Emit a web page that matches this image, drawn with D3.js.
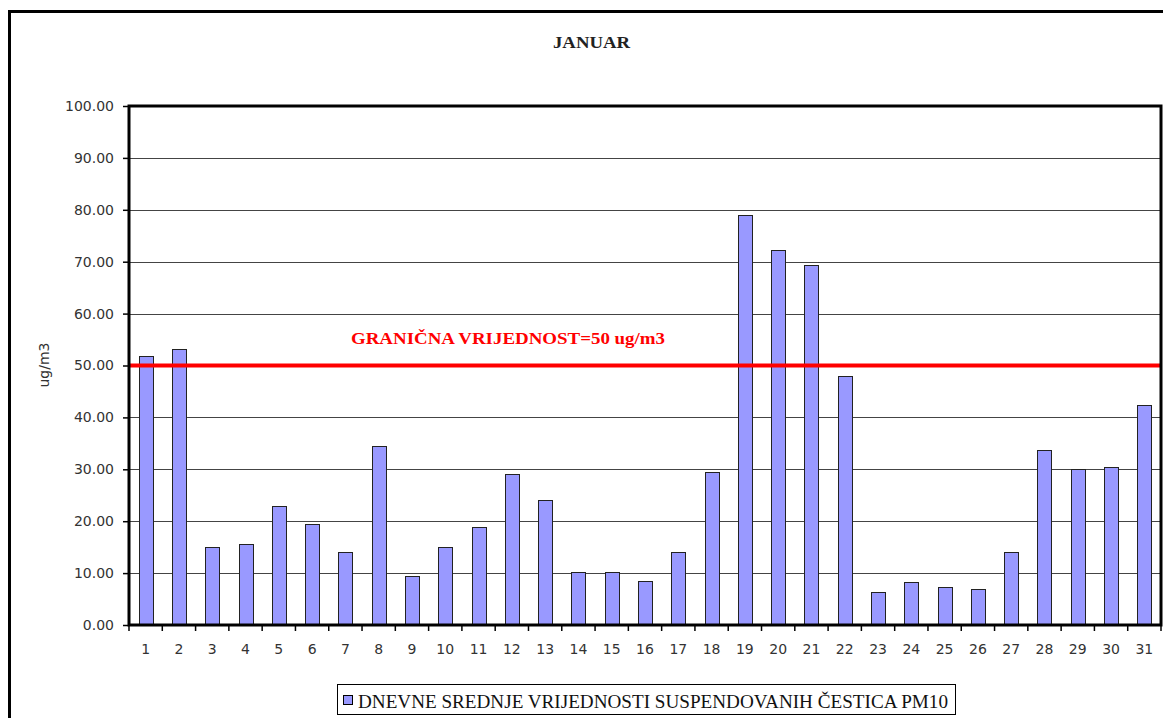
<!DOCTYPE html>
<html>
<head>
<meta charset="utf-8">
<script src="https://cdn.jsdelivr.net/npm/d3@7"></script>
<style>
  body { margin: 0; background: #fff; }
  svg { display: block; }
</style>
</head>
<body>
<svg id="chart" width="1163" height="718"></svg>
<script>
const days = d3.range(1, 32).map(String);
const pm10 = [51.8, 53.2, 15.0, 15.7, 22.9, 19.4, 14.1, 34.4, 9.4, 15.0,
              18.9, 29.0, 24.1, 10.3, 10.3, 8.5, 14.1, 29.4, 79.0, 72.3,
              69.4, 48.0, 6.4, 8.2, 7.3, 6.9, 14.1, 33.7, 30.1, 30.4, 42.4];
const yTicks = [0, 10, 20, 30, 40, 50, 60, 70, 80, 90, 100];
const limitValue = 50;
const titleText = 'JANUAR';
const limitLabel = 'GRANIČNA VRIJEDNOST=50 ug/m3';
const legendLabel = 'DNEVNE SREDNJE VRIJEDNOSTI SUSPENDOVANIH ČESTICA PM10';
const yLabel = 'ug/m3';

const plot = { left: 129, top: 106, right: 1161, bottom: 625 };
const sans = '"DejaVu Sans", Verdana, sans-serif';
const serif = '"Liberation Serif", "Times New Roman", serif';

const svg = d3.select('#chart');

// outer chart border (continues past window on right/bottom)
svg.append('rect')
  .attr('x', 9.5).attr('y', 11.5)
  .attr('width', 1200).attr('height', 800)
  .attr('fill', 'none').attr('stroke', '#000').attr('stroke-width', 3);

const x = d3.scaleBand().domain(days).range([plot.left, plot.right])
  .paddingInner(0.58).paddingOuter(0.29);
const xCat = d3.scaleBand().domain(days).range([plot.left, plot.right]);
const y = d3.scaleLinear().domain([0, 100]).range([plot.bottom, plot.top]);

// gridlines
svg.append('g').selectAll('line')
  .data(yTicks.filter(d => d > 0 && d < 100))
  .enter().append('line')
  .attr('x1', plot.left).attr('x2', plot.right)
  .attr('y1', d => Math.round(y(d)) + 0.5).attr('y2', d => Math.round(y(d)) + 0.5)
  .attr('stroke', '#444').attr('stroke-width', 1);

// bars
svg.append('g').selectAll('rect')
  .data(pm10)
  .enter().append('rect')
  .attr('x', (d, i) => Math.round(x(days[i])) + 0.5)
  .attr('y', d => Math.round(y(d)) + 0.5)
  .attr('width', Math.round(x.bandwidth()))
  .attr('height', d => plot.bottom - Math.round(y(d)))
  .attr('fill', '#9999ff')
  .attr('stroke', '#222')
  .attr('stroke-width', 1);

// limit line
svg.append('line')
  .attr('x1', plot.left).attr('x2', plot.right)
  .attr('y1', y(limitValue)).attr('y2', y(limitValue))
  .attr('stroke', '#ff0000').attr('stroke-width', 4);

svg.append('text')
  .attr('x', 351).attr('y', 344)
  .attr('font-family', serif).attr('font-weight', 'bold')
  .attr('font-size', 16).attr('fill', '#ff0000')
  .attr('textLength', 314).attr('lengthAdjust', 'spacingAndGlyphs')
  .text(limitLabel);

// y axis
const yAxis = d3.axisLeft(y).tickValues(yTicks).tickSize(6).tickPadding(9)
  .tickFormat(d3.format('.2f'));
const gy = svg.append('g').attr('transform', `translate(${plot.left},0)`).call(yAxis);
gy.select('.domain').remove();
gy.selectAll('line').attr('stroke', '#000').attr('stroke-width', 1.5);
gy.selectAll('text').attr('font-family', sans).attr('font-size', 14).attr('fill', '#333');

// x axis
const xAxis = d3.axisBottom(xCat).tickSize(0).tickPadding(19);
const gx = svg.append('g').attr('transform', `translate(0,${plot.bottom})`).call(xAxis);
gx.select('.domain').remove();
gx.selectAll('text').attr('font-family', sans).attr('font-size', 14).attr('fill', '#333');

svg.append('g').selectAll('line')
  .data(days.concat(['end']))
  .enter().append('line')
  .attr('x1', (d, i) => plot.left + i * xCat.step())
  .attr('x2', (d, i) => plot.left + i * xCat.step())
  .attr('y1', plot.bottom).attr('y2', plot.bottom + 6)
  .attr('stroke', '#000').attr('stroke-width', 1.5);

// plot frame
svg.append('rect')
  .attr('x', plot.left).attr('y', plot.top)
  .attr('width', plot.right - plot.left).attr('height', plot.bottom - plot.top)
  .attr('fill', 'none').attr('stroke', '#000').attr('stroke-width', 3);

// y axis title
svg.append('text')
  .attr('transform', 'translate(49,365) rotate(-90)')
  .attr('text-anchor', 'middle')
  .attr('font-family', sans).attr('font-size', 14).attr('fill', '#333')
  .text(yLabel);

// title
svg.append('text')
  .attr('x', 553).attr('y', 48)
  .attr('font-family', serif).attr('font-weight', 'bold').attr('font-size', 17)
  .attr('textLength', 77).attr('lengthAdjust', 'spacingAndGlyphs')
  .attr('fill', '#222')
  .text(titleText);

// legend
const legend = svg.append('g');
legend.append('rect')
  .attr('x', 337.5).attr('y', 684.5).attr('width', 618).attr('height', 30)
  .attr('fill', '#fff').attr('stroke', '#000').attr('stroke-width', 1);
legend.append('rect')
  .attr('x', 343.5).attr('y', 695.5).attr('width', 9).attr('height', 9)
  .attr('fill', '#9999ff').attr('stroke', '#000').attr('stroke-width', 1);
legend.append('text')
  .attr('x', 358).attr('y', 708)
  .attr('font-family', serif).attr('font-size', 18).attr('fill', '#111')
  .attr('textLength', 590).attr('lengthAdjust', 'spacingAndGlyphs')
  .text(legendLabel);
</script>
</body>
</html>
